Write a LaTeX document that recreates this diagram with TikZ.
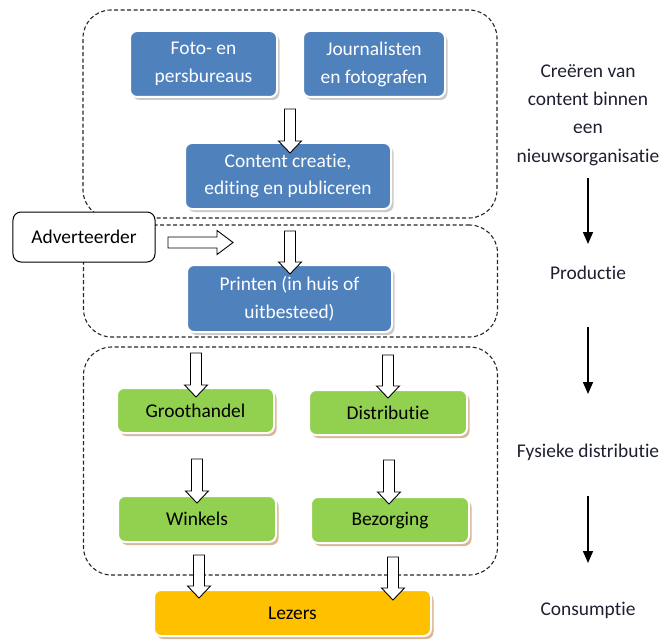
\documentclass[tikz,border=0pt]{standalone}
\usepackage{fontspec}
\setmainfont{Carlito}[RawFeature={-liga}]
\usetikzlibrary{shadows,arrows.meta}
\definecolor{boxblue}{HTML}{4F81BD}
\definecolor{boxgreen}{HTML}{92D050}
\definecolor{boxorange}{HTML}{FFC000}
\definecolor{shadowtan}{HTML}{D5AE8C}
\definecolor{labelcol}{HTML}{1E2030}
\tikzset{
  boxbase/.style={rectangle, rounded corners=7bp, draw=white, line width=2bp,
    inner sep=2bp, align=center, font=\fontsize{19.5}{28}\selectfont},
  bluebox/.style={boxbase, fill=boxblue, text=white,
    drop shadow={shadow xshift=2.5bp, shadow yshift=-3bp, fill=black!35, opacity=0.6}},
  greenbox/.style={boxbase, fill=boxgreen, text=black,
    drop shadow={shadow xshift=2.5bp, shadow yshift=-3bp, fill=shadowtan, opacity=0.9}},
  orangebox/.style={boxbase, fill=boxorange, text=black,
    drop shadow={shadow xshift=2.5bp, shadow yshift=-3bp, fill=shadowtan, opacity=0.9}},
  advbox/.style={rectangle, rounded corners=8bp, draw=black, line width=1bp, fill=white,
    font=\fontsize{19.5}{28}\selectfont, minimum width=142bp, minimum height=50bp},
  stageframe/.style={rectangle, draw=black!85, line width=1.1bp, dash pattern=on 4bp off 2.5bp,
    rounded corners=28bp, minimum width=414bp},
  blk/.style={draw=black, fill=white, line width=0.9bp, line join=miter},
  stagelabel/.style={text=labelcol, align=center, font=\fontsize{19.5}{28.5}\selectfont},
  stageflow/.style={-{Triangle[length=12bp,width=10bp]}, line width=1.6bp, draw=black}
}
% block arrow pointing down: name, x, ytop, ybottom
\newcommand\blkdown[4]{%
  \draw[blk] ({#2-5.5},#3) -- ({#2+5.5},#3) -- ({#2+5.5},{#4-12}) -- ({#2+11.5},{#4-12})
    -- (#2,#4) coordinate (#1) -- ({#2-11.5},{#4-12}) -- ({#2-5.5},{#4-12}) -- cycle;}
\begin{document}
\begin{tikzpicture}[x=1bp,y=-1bp]
\useasboundingbox (0,0) rectangle (670,641);
% stage frames
\node[stageframe, minimum height=208bp] (s1) at (290,114) {};
\node[stageframe, minimum height=112bp] (s2) at (290.5,281) {};
\node[stageframe, minimum height=228bp] (s3) at (290.5,461) {};
% advertiser
\node[advbox] (adv) at (84,237) {Adverteerder};
% blue boxes
\node[bluebox, minimum width=147bp, minimum height=66bp] (foto) at (203.5,64) {Foto- en\\persbureaus};
\node[bluebox, minimum width=142bp, minimum height=66bp] (journ) at (374,64) {Journalisten\\en fotografen};
\node[bluebox, minimum width=206bp, minimum height=66bp] (content) at (288,176) {Content creatie,\\editing en publiceren};
\node[bluebox, minimum width=205bp, minimum height=67bp] (print) at (289.5,298.5) {Printen (in huis of\\uitbesteed)};
% green boxes
\node[greenbox, minimum width=157bp, minimum height=45bp] (groot) at (195.5,410.5) {Groothandel};
\node[greenbox, minimum width=158bp, minimum height=45bp] (distr) at (388,412.5) {Distributie};
\node[greenbox, minimum width=158bp, minimum height=46bp] (wink) at (197,519) {Winkels};
\node[greenbox, minimum width=158bp, minimum height=46bp] (bez) at (390,520) {Bezorging};
% readers
\node[orangebox, minimum width=277bp, minimum height=46bp] (lez) at (292.5,613) {Lezers};
% block arrows
\blkdown{a1}{290}{109}{153}
\blkdown{a2}{290}{231}{274}
\blkdown{a3}{196}{353}{397}
\blkdown{a4}{388}{355}{398}
\blkdown{a5}{197}{459}{503}
\blkdown{a6}{389}{460}{504}
\blkdown{a7}{199}{555}{598}
\blkdown{a8}{393}{557}{600}
\draw[blk] (168,237) -- (217,237) -- (217,230.5) -- (233,242.5) coordinate (aadv)
  -- (217,254.5) -- (217,248) -- (168,248) -- cycle;
% stage labels
\node[stagelabel] (l1) at (588,115) {Creëren van\\content binnen\\een\\nieuwsorganisatie};
\node[stagelabel] (l2) at (588,273) {Productie};
\node[stagelabel] (l3) at (588,452) {Fysieke distributie};
\node[stagelabel] (l4) at (588,610) {Consumptie};
\coordinate (f1s) at (588,178);
\coordinate (f1e) at (588,244);
\coordinate (f2s) at (588,327);
\coordinate (f2e) at (588,394);
\coordinate (f3s) at (588,496);
\coordinate (f3e) at (588,563);
\draw[stageflow] (f1s) -- (f1e);
\draw[stageflow] (f2s) -- (f2e);
\draw[stageflow] (f3s) -- (f3e);
\end{tikzpicture}
\end{document}
